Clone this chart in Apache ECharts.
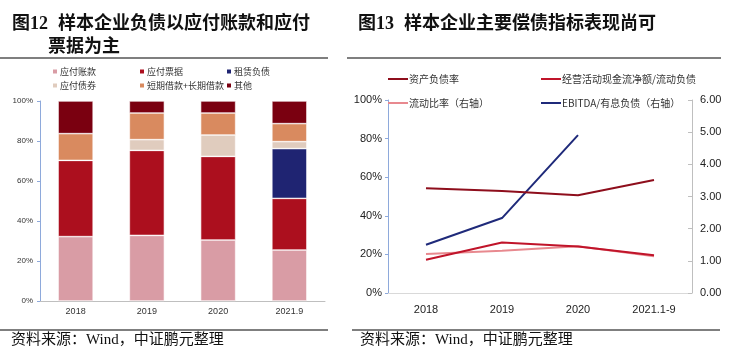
<!DOCTYPE html>
<html><head><meta charset="utf-8">
<script src="https://cdn.jsdelivr.net/npm/echarts@6/dist/echarts.min.js"></script>
<style>html,body{margin:0;padding:0;background:#fff;}#c{width:732px;height:355px;}</style>
</head><body><div id="c"></div>
<script>
// Left chart data (percent of total liabilities)
const barCategories = ['2018', '2019', '2020', '2021.9'];
const apAccounts = [32.2, 32.8, 30.5, 25.5];     // 应付账款
const apNotes = [38.1, 42.5, 41.8, 25.8];        // 应付票据
const leaseLiab = [0, 0, 0, 24.9];               // 租赁负债
const bondsPayable = [0, 5.4, 10.7, 3.5];        // 应付债券
const loans = [13.4, 13.3, 11.0, 9.0];           // 短期借款+长期借款
const others = [16.3, 6.0, 6.0, 11.3];           // 其他
const barYTicks = [0, 20, 40, 60, 80, 100];

// Right chart data
const lineCategories = ['2018', '2019', '2020', '2021.1-9'];
const debtRatio = [54.3, 52.9, 50.7, 58.6];          // 资产负债率 (%)
const cfoToCurLiab = [17.2, 26.2, 24.1, 19.5];       // 经营活动现金流净额/流动负债 (%)
const currentRatio = [1.21, 1.31, 1.45, 1.14];       // 流动比率 (右轴)
const ebitdaToDebt = [1.50, 2.33, 4.91, null];       // EBITDA/有息负债 (右轴)

const barNames = ['应付账款','应付票据','租赁负债','应付债券','短期借款+长期借款','其他'];
const barColors = ['#D99CA5','#AC0F1E','#1F2472','#E0CCBE','#D98A5F','#7A0010'];
const barData = [apAccounts, apNotes, leaseLiab, bondsPayable, loans, others];

const lineNames = ['资产负债率','经营活动现金流净额/流动负债','流动比率（右轴）','EBITDA/有息负债（右轴）'];
const lineColors = ['#8E0E1C','#C0142A','#E8898F','#1F2A7A'];
const lineData = [debtRatio, cfoToCurLiab, currentRatio, ebitdaToDebt];
const lineAxis = [0, 0, 1, 1];

const chart = echarts.init(document.getElementById('c'));
const cjk = '"Noto Sans CJK SC", sans-serif';
const serifMix = '"Liberation Serif", "Noto Sans CJK SC", serif';
const narrow = '"Liberation Sans Narrow", "Liberation Sans", Arial, sans-serif';

const legendPosLeft = [[51,67],[138,67],[225,67],[51,81],[138,81],[225,81]];
const legendPosRight = [[388,74],[541,74],[388,98],[541,98]];

const legends = [];
barNames.forEach((n, i) => {
  legends.push({
    data: [n], left: legendPosLeft[i][0], top: legendPosLeft[i][1],
    itemWidth: 6, itemHeight: 6, itemGap: 2, icon: 'rect', padding: 0,
    textStyle: { fontSize: 9, fontFamily: cjk, color: '#333', padding: [0,0,0,-3] }
  });
});
lineNames.forEach((n, i) => {
  legends.push({
    data: [n], left: legendPosRight[i][0], top: legendPosRight[i][1],
    itemWidth: 20, itemHeight: 2, icon: 'rect', padding: 0,
    textStyle: { fontSize: 10, fontFamily: cjk, color: '#333', padding: [0,0,0,-4] }
  });
});

const series = [];
barNames.forEach((n, i) => {
  series.push({
    name: n, type: 'bar', stack: 'total', xAxisIndex: 0, yAxisIndex: 0,
    barWidth: 35, data: barData[i],
    itemStyle: { color: barColors[i], borderColor: '#fff', borderWidth: 0.6 },
    emphasis: { disabled: true }
  });
});
lineNames.forEach((n, i) => {
  series.push({
    name: n, type: 'line', xAxisIndex: 1, yAxisIndex: 1 + lineAxis[i],
    data: lineData[i], showSymbol: false, symbol: 'none',
    lineStyle: { color: lineColors[i], width: 2 }, itemStyle: { color: lineColors[i] },
    z: 10 - i
  });
});

chart.setOption({
  animation: false,
  backgroundColor: '#fff',
  legend: legends,
  grid: [
    { left: 40, right: 407, top: 101, bottom: 54 },
    { left: 388, right: 40, top: 100, bottom: 62 }
  ],
  xAxis: [
    { type: 'category', gridIndex: 0, data: barCategories,
      axisLine: { lineStyle: { color: '#BFBFBF', width: 1 } }, axisTick: { show: false },
      axisLabel: { fontSize: 9, color: '#333', fontFamily: narrow, margin: 6 } },
    { type: 'category', gridIndex: 1, data: lineCategories,
      axisLine: { lineStyle: { color: '#D9D9D9', width: 1 } }, axisTick: { show: false },
      axisLabel: { fontSize: 11, color: '#222', fontFamily: narrow, margin: 11 } }
  ],
  yAxis: [
    { type: 'value', gridIndex: 0, min: barYTicks[0], max: barYTicks[barYTicks.length-1], interval: 20,
      splitLine: { show: false },
      axisLine: { show: true, lineStyle: { color: '#8EA9DB' } },
      axisTick: { show: true, length: 3, lineStyle: { color: '#8EA9DB' } },
      axisLabel: { fontSize: 8, color: '#333', fontFamily: narrow, formatter: '{value}%', margin: 7 } },
    { type: 'value', gridIndex: 1, min: 0, max: 100, interval: 20,
      splitLine: { show: false },
      axisLine: { show: true, lineStyle: { color: '#8EA9DB' } },
      axisTick: { show: true, length: 3, lineStyle: { color: '#8EA9DB' } },
      axisLabel: { fontSize: 11, color: '#222', fontFamily: narrow, formatter: '{value}%', margin: 6 } },
    { type: 'value', gridIndex: 1, position: 'right', min: 0, max: 6, interval: 1,
      splitLine: { show: false },
      axisLine: { show: true, lineStyle: { color: '#BFBFBF' } },
      axisTick: { show: true, inside: true, length: 4, lineStyle: { color: '#BFBFBF' } },
      axisLabel: { fontSize: 11, color: '#222', fontFamily: narrow, margin: 8,
        formatter: v => v.toFixed(2) } }
  ],
  series: series,
  graphic: [
    { type: 'text', left: 12, top: 15, style: { text: '图12', font: 'bold 18px ' + serifMix, fill: '#111' } },
    { type: 'text', left: 58, top: 15, style: { text: '样本企业负债以应付账款和应付', font: 'bold 18px ' + serifMix, fill: '#111' } },
    { type: 'text', left: 48, top: 38, style: { text: '票据为主', font: 'bold 18px ' + serifMix, fill: '#111' } },
    { type: 'line', shape: { x1: 0, y1: 58, x2: 328, y2: 58 }, style: { stroke: '#000', lineWidth: 1.2 } },
    { type: 'text', left: 358, top: 15, style: { text: '图13', font: 'bold 18px ' + serifMix, fill: '#111' } },
    { type: 'text', left: 404, top: 15, style: { text: '样本企业主要偿债指标表现尚可', font: 'bold 18px ' + serifMix, fill: '#111' } },
    { type: 'line', shape: { x1: 347, y1: 58, x2: 721, y2: 58 }, style: { stroke: '#000', lineWidth: 1.2 } },
    { type: 'line', shape: { x1: 0, y1: 330, x2: 328, y2: 330 }, style: { stroke: '#000', lineWidth: 1.2 } },
    { type: 'line', shape: { x1: 352, y1: 330, x2: 720, y2: 330 }, style: { stroke: '#000', lineWidth: 1.2 } },
    { type: 'text', left: 11, top: 333, style: { text: '资料来源：Wind，中证鹏元整理', font: '15px ' + serifMix, fill: '#111' } },
    { type: 'text', left: 360, top: 333, style: { text: '资料来源：Wind，中证鹏元整理', font: '15px ' + serifMix, fill: '#111' } }
  ]
});
</script></body></html>
